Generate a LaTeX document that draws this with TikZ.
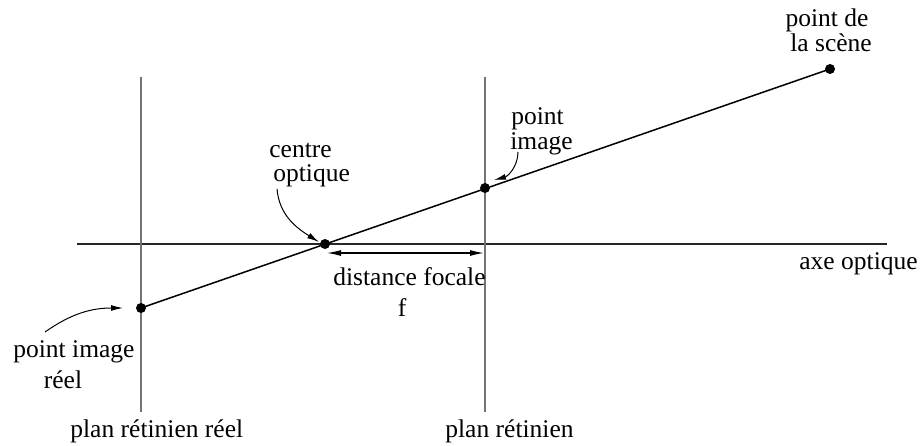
\documentclass[tikz,border=0pt]{standalone}
\usepackage{fontspec}
\setmainfont{Liberation Serif}
\usetikzlibrary{arrows.meta}
\begin{document}
\begin{tikzpicture}[x=0.5pt,y=-0.5pt,
  lbl/.style={inner sep=0pt, anchor=base west, font=\fontsize{12.75}{15}\selectfont},
  lblc/.style={inner sep=0pt, anchor=base, font=\fontsize{12.75}{15}\selectfont},
  dot/.style={circle, fill=black, inner sep=0pt, minimum size=5pt},
  plane/.style={draw=black!55, line width=0.6pt},
  axis/.style={draw=black!85, line width=0.55pt},
  ray/.style={line width=0.75pt},
  ptr/.style={-{Latex[length=6pt,width=3pt]}, line width=0.5pt},
  dim/.style={{Latex[length=7pt,width=3pt]}-{Latex[length=7pt,width=3pt]}, line width=0.6pt},
]
\useasboundingbox (0,0) rectangle (922,445);
% axes and planes
\coordinate (axL) at (77,244);
\coordinate (axR) at (887,244);
\coordinate (p1T) at (141,77);
\coordinate (p1B) at (141,412);
\coordinate (p2T) at (485,77);
\coordinate (p2B) at (485,412);
\draw[axis] (axL) -- (axR);
\draw[plane] (p1T) -- (p1B);
\draw[plane] (p2T) -- (p2B);
% points
\node[dot] (R) at (141,308) {};
\node[dot] (O) at (325,244) {};
\node[dot] (I) at (485,188) {};
\node[dot] (S) at (830,69) {};
\draw[ray] (R.center) -- (S.center);
% focal distance
\coordinate (fa) at (327,253);
\coordinate (fb) at (484,253);
\draw[dim] (fa) -- (fb);
\node[lbl] (dist) at (333,285) {distance focale};
\node[lblc] (f) at (402,316) {f};
% labels
\node[lblc] (sc1) at (827,26) {point de};
\node[lblc] (sc2) at (831,51) {la scène};
\node[lbl] (pi1) at (511,124) {point};
\node[lbl] (pi2) at (510,149) {image};
\node[lbl] (co1) at (269,157) {centre};
\node[lbl] (co2) at (273,181) {optique};
\node[lbl] (ax) at (799,269) {axe optique};
\node[lbl] (pr1) at (13,357) {point image};
\node[lblc] (pr2) at (63,388) {réel};
\node[lbl] (pl1) at (70,437) {plan rétinien réel};
\node[lbl] (pl2) at (445,437) {plan rétinien};
% pointer arrows
\coordinate (coS) at (277,189);
\coordinate (coE) at (319,242);
\draw[ptr] (coS) to[out=-85,in=148] (coE);
\coordinate (piS) at (518,152);
\coordinate (piE) at (494,180);
\draw[ptr] (piS) to[out=-90,in=15] (piE);
\coordinate (prS) at (45,332);
\coordinate (prE) at (123,308);
\draw[ptr] (prS) to[out=35,in=180] (prE);
\end{tikzpicture}
\end{document}
